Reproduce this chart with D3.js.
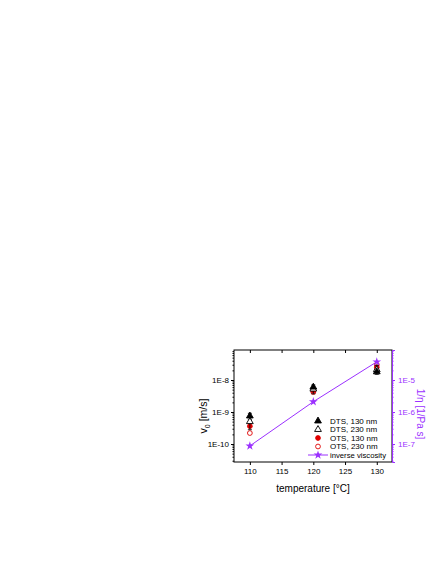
<!DOCTYPE html>
<html>
<head>
<meta charset="utf-8">
<script src="https://cdn.jsdelivr.net/npm/d3@7"></script>
<style>
  body { margin: 0; background: #fff; }
  svg { display: block; font-family: "Liberation Sans", Arial, sans-serif; }
</style>
</head>
<body>
<svg id="chart" width="436" height="564"></svg>
<script>
// values
var temps = [110, 120, 130];
var dts130 = [7.5e-10, 6.0e-9, 1.8e-8];
var dts230 = [5.0e-10, 5.2e-9, 2.1e-8];
var ots130 = [3.6e-10, 4.6e-9, 2.5e-8];
var ots230 = [2.2e-10, 4.2e-9, 3.0e-8];
var dts130Err = [1.6e-10, 1.0e-9, 3.0e-9];
var ots130Err = [0.8e-10, 0.9e-9, 4.0e-9];
var invVisc = [8.7e-8, 2.1e-6, 3.7e-5];
var xTicks = [110, 115, 120, 125, 130];
var leftTicks = [1e-10, 1e-9, 1e-8];
var rightTicks = [1e-7, 1e-6, 1e-5];
var legendNames = ["DTS, 130 nm", "DTS, 230 nm", "OTS, 130 nm", "OTS, 230 nm", "inverse viscosity"];

var purple = "#9b30ff";
var svg = d3.select("#chart");
var L = 234, R = 392, T = 350, B = 462;

var x = d3.scaleLinear().domain([107.5, 132.4]).range([L, R]);
var y = d3.scaleLog().domain([Math.pow(10, -10.5625), Math.pow(10, -7.0625)]).range([B, T]);
var y2 = d3.scaleLog().domain([Math.pow(10, -7.5625), Math.pow(10, -4.0625)]).range([B, T]);

function minorTicks(scale) {
  var out = [], d = scale.domain();
  for (var e = -12; e <= -3; e++) {
    for (var k = 2; k <= 9; k++) {
      var v = k * Math.pow(10, e);
      if (v >= d[0] && v <= d[1]) out.push(v);
    }
  }
  return out;
}

// frame
svg.append("rect").attr("x", L).attr("y", T).attr("width", R - L).attr("height", B - T)
  .attr("fill", "none").attr("stroke", "#000").attr("stroke-width", 1);

// bottom axis
var gx = svg.append("g").attr("transform", "translate(0," + B + ")")
  .call(d3.axisBottom(x).tickValues(xTicks).tickSize(3).tickPadding(3).tickFormat(d3.format("d")));
gx.select(".domain").remove();
gx.selectAll("text").attr("font-size", 8).attr("font-family", "Liberation Sans, Arial");
// top ticks, pointing inward
svg.append("g").attr("transform", "translate(0," + T + ")")
  .call(d3.axisBottom(x).tickValues(xTicks).tickSize(3).tickFormat(""))
  .select(".domain").remove();

// left axis
var gy = svg.append("g").attr("transform", "translate(" + L + ",0)")
  .call(d3.axisLeft(y).tickValues(leftTicks).tickSize(3).tickPadding(2)
    .tickFormat(function(d) { return "1E" + Math.round(Math.log10(d)); }));
gy.select(".domain").remove();
gy.selectAll("text").attr("font-size", 8).attr("font-family", "Liberation Sans, Arial");
svg.append("g").attr("transform", "translate(" + L + ",0)")
  .call(d3.axisLeft(y).tickValues(minorTicks(y)).tickSize(1.5).tickFormat(""))
  .select(".domain").remove();

// right axis (purple)
var gr = svg.append("g").attr("transform", "translate(" + R + ",0)")
  .call(d3.axisRight(y2).tickValues(rightTicks).tickSize(3).tickPadding(3)
    .tickFormat(function(d) { return "1E" + Math.round(Math.log10(d)); }));
gr.select(".domain").attr("stroke", purple);
gr.selectAll("line").attr("stroke", purple);
gr.selectAll("text").attr("fill", purple).attr("font-size", 8).attr("font-family", "Liberation Sans, Arial");
var grm = svg.append("g").attr("transform", "translate(" + R + ",0)")
  .call(d3.axisRight(y2).tickValues(minorTicks(y2)).tickSize(1.5).tickFormat(""));
grm.select(".domain").remove();
grm.selectAll("line").attr("stroke", purple);

// axis titles
var yl = svg.append("text").attr("transform", "translate(207," + ((T + B) / 2 + 10) + ") rotate(-90)")
  .attr("text-anchor", "middle").attr("font-size", 10.5);
yl.append("tspan").text("v");
yl.append("tspan").attr("font-size", 7).attr("dy", 2.5).text("0");
yl.append("tspan").attr("dy", -2.5).text(" [m/s]");

svg.append("text").attr("transform", "translate(417," + ((T + B) / 2 + 8) + ") rotate(90)")
  .attr("text-anchor", "middle").attr("font-size", 10).attr("fill", purple)
  .text("1/\u03b7 [1/Pa s]");

svg.append("text").attr("x", (L + R) / 2).attr("y", 492).attr("text-anchor", "middle")
  .attr("font-size", 10).text("temperature [\u00b0C]");

// inverse viscosity line
var line = d3.line().x(function(d, i) { return x(temps[i]); }).y(function(d) { return y2(d); });
svg.append("path").attr("d", line(invVisc)).attr("fill", "none").attr("stroke", purple).attr("stroke-width", 1);

var star = d3.symbol().type(d3.symbolStar).size(24);
var tri = d3.symbol().type(d3.symbolTriangle).size(20);
var circ = d3.symbol().type(d3.symbolCircle).size(18);

// error bars
function errBars(vals, errs) {
  var g = svg.append("g").attr("stroke", "#000").attr("stroke-width", 0.8);
  vals.forEach(function(v, i) {
    var cx = x(temps[i]), y0 = y(v + errs[i]), y1 = y(v - errs[i]);
    g.append("line").attr("x1", cx).attr("x2", cx).attr("y1", y0).attr("y2", y1);
    g.append("line").attr("x1", cx - 2).attr("x2", cx + 2).attr("y1", y0).attr("y2", y0);
    g.append("line").attr("x1", cx - 2).attr("x2", cx + 2).attr("y1", y1).attr("y2", y1);
  });
}
errBars(dts130, dts130Err);

function points(vals, sym, fill, stroke) {
  svg.append("g").selectAll("path").data(vals).enter().append("path")
    .attr("d", sym)
    .attr("transform", function(d, i) { return "translate(" + x(temps[i]) + "," + y(d) + ")"; })
    .attr("fill", fill).attr("stroke", stroke).attr("stroke-width", 0.9);
}
points(ots230, circ, "#fff", "#e00000");
points(ots130, circ, "#e00000", "#e00000");
errBars(ots130, ots130Err);
points(dts230, tri, "#fff", "#000");
points(dts130, tri, "#000", "#000");

svg.append("g").selectAll("path").data(invVisc).enter().append("path")
  .attr("d", star)
  .attr("transform", function(d, i) { return "translate(" + x(temps[i]) + "," + y2(d) + ")"; })
  .attr("fill", purple);

// legend
var lx = 318, ly = 421, dy = 8.5;
var lg = svg.append("g");
var legSyms = [
  { s: tri, f: "#000", c: "#000" },
  { s: tri, f: "#fff", c: "#000" },
  { s: circ, f: "#e00000", c: "#e00000" },
  { s: circ, f: "#fff", c: "#e00000" }
];
legSyms.forEach(function(o, i) {
  lg.append("path").attr("d", o.s).attr("transform", "translate(" + lx + "," + (ly + i * dy) + ")")
    .attr("fill", o.f).attr("stroke", o.c).attr("stroke-width", 0.9);
});
lg.append("line").attr("x1", lx - 10).attr("x2", lx + 10).attr("y1", ly + 4 * dy).attr("y2", ly + 4 * dy)
  .attr("stroke", purple).attr("stroke-width", 1);
lg.append("path").attr("d", star).attr("transform", "translate(" + lx + "," + (ly + 4 * dy) + ")").attr("fill", purple);
lg.selectAll("text").data(legendNames).enter().append("text")
  .attr("x", lx + 12).attr("y", function(d, i) { return ly + i * dy + 2.8; })
  .attr("font-size", 8)
  .attr("textLength", function(d, i) { return i === 4 ? 56 : null; })
  .attr("lengthAdjust", "spacingAndGlyphs")
  .text(function(d) { return d; });
</script>
</body>
</html>
